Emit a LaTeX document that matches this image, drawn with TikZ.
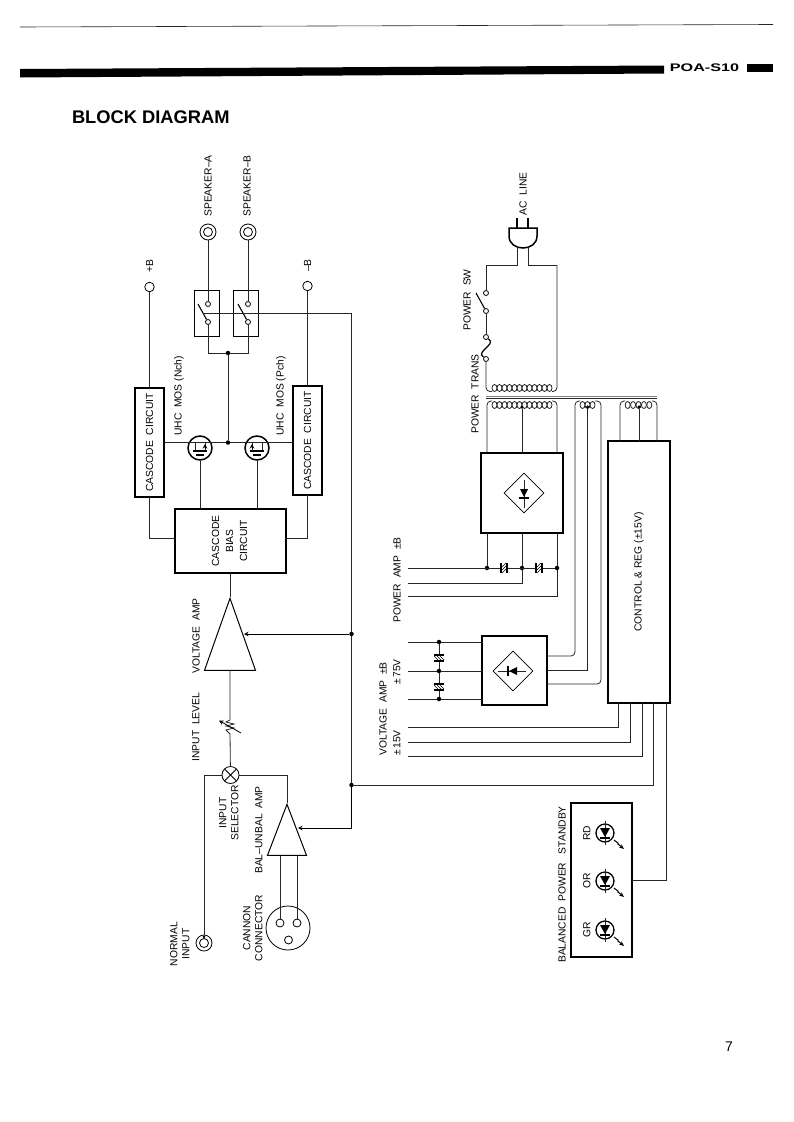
\documentclass[tikz,border=0pt]{standalone}
\usepackage{fontspec}
\setmainfont{Liberation Sans}
\usetikzlibrary{positioning, arrows.meta, shapes.geometric}
\newcommand{\vt}[1]{\rotatebox{90}{#1}}
\newcommand{\vtt}[1]{\rotatebox{90}{\begin{tabular}{@{}c@{}}#1\end{tabular}}}
% #1 position, #2 side of the arrow (1 or -1)
\newcommand{\mossym}[2]{\begin{scope}[shift={(#1)}]
    \draw[bar] (-7,3) -- (7,3);
    \draw[bar] (-4,7) -- (4,7);
    \draw[wire] (-5,-6) -- (-5,3) (5,-6) -- (5,3);
    \draw[arr] (#2*5,1) -- (#2*5,-4);
  \end{scope}}
% #1 position, #2 rotation
\newcommand{\capsym}[2]{\begin{scope}[shift={(#1)},rotate=#2]
    \fill[white] (-3,-5) rectangle (3,5);
    \draw[bar] (-3,-5) -- (-3,5) (3,-5) -- (3,5);
    \foreach \k in {-3,0,3} \draw[thin] (-2,\k+2) -- (2,\k-2);
  \end{scope}}
% #1 position, #2 rotation (pointing down at 0)
\newcommand{\diodesym}[2]{\begin{scope}[shift={(#1)},rotate=#2]
    \draw[wire] (0,-13) -- (0,15);
    \fill (-4,-4) -- (4,-4) -- (0,4) -- cycle;
    \draw[bar] (-5,5) -- (5,5);
  \end{scope}}
\newcommand{\ledsym}[1]{\begin{scope}[shift={(#1)}]
    \draw[wire] (0,-12) -- (0,12);
    \fill (-5,-5) -- (5,-5) -- (0,4) -- cycle;
    \draw[bar] (-5,5) -- (5,5);
    \draw[line width=1pt] (9,7) -- (13,10) -- (13,12);
    \draw[-{Stealth[length=5pt, width=4pt]}, line width=1pt] (13,11) -- (19,16);
  \end{scope}}
% #1 first loop x, #2 y, #3 loops, #4 pitch
\newcommand{\coilsym}[4]{\foreach \k in {1,...,#3}
    \draw[wire] ({#1+(\k-0.5)*#4},#2) ellipse (2.5pt and 3.5pt);}

\begin{document}
\begin{tikzpicture}[
    x=1pt, y=-1pt,
    wire/.style={line width=0.8pt, black!85},
    bar/.style={line width=1.5pt},
    arr/.style={-{Stealth[length=4.5pt, width=4.5pt]}, line width=0.8pt},
    block/.style={draw, line width=1.5pt, inner sep=0pt, outer sep=0pt, fill=white,
                  font=\fontsize{10.3}{13}\selectfont},
    thinbox/.style={draw, line width=0.8pt, inner sep=0pt, outer sep=0pt},
    lbl/.style={inner sep=0pt, outer sep=0pt, font=\fontsize{10.3}{12}\selectfont},
    dot/.style={circle, fill, inner sep=0pt, minimum size=4.5pt},
    port/.style={circle, draw, line width=0.8pt, fill=white, inner sep=0pt, minimum size=5pt},
    opencirc/.style={circle, draw, line width=0.8pt, inner sep=0pt, minimum size=9.5pt},
    jack/.style={circle, draw, line width=0.8pt, inner sep=0pt, minimum size=16pt,
                 path picture={\draw[line width=0.8pt] (path picture bounding box.center) circle (4.5pt);}},
    amp/.style={draw, line width=1pt, isosceles triangle, shape border rotate=90,
                isosceles triangle stretches, inner sep=0pt, anchor=apex},
    mosfet/.style={circle, draw, line width=1.5pt, inner sep=0pt, minimum size=24pt},
    led/.style={circle, draw, line width=1.3pt, inner sep=0pt, minimum size=18pt},
    bridge/.style={diamond, draw, line width=0.8pt, inner sep=0pt, minimum width=40pt, minimum height=40pt}
  ]
    \useasboundingbox (0,0) rectangle (793,1122);
    % Page head
    \draw[wire, line width=0.6pt] (20,27) -- (773,24.5);
    \fill (20,69) -- (664,65.5) -- (664,73.5) -- (20,77.5) -- cycle;
    \fill (747,63.5) rectangle (773,71.5);
    \node[lbl, font=\bfseries\fontsize{11}{12}\selectfont, xscale=1.47, transform shape] (model) at (704.5,68) {POA-S10};
    \node[lbl, font=\bfseries\fontsize{18.3}{20}\selectfont, anchor=west] (title) at (72,117) {BLOCK DIAGRAM};
    \node[lbl, font=\fontsize{14}{14}\selectfont] (pageno) at (729,1047) {7};

    % Speaker outputs
    \node[jack] (spkA) at (208,232) {};
    \node[jack] (spkB) at (248,232) {};
    \node[lbl] (spkAtxt) at (208,186) {\vt{SPEAKER--A}};
    \node[lbl] (spkBtxt) at (247,186) {\vt{SPEAKER--B}};
    \node[thinbox, minimum width=25pt, minimum height=46pt] (swA) at (206.5,313) {};
    \node[thinbox, minimum width=25pt, minimum height=46pt, right=14pt of swA] (swB) {};
    \node[port] (swAt) at (208,304) {};
    \node[port] (swAb) at (208,322) {};
    \node[port] (swBt) at (248,304) {};
    \node[port] (swBb) at (248,322) {};
    \coordinate (armA) at (198,304);
    \coordinate (armB) at (238,304);
    \coordinate (ctlA) at (202.5,313);
    \draw[line width=1.1pt] (armA) -- (swAb);
    \draw[line width=1.1pt] (armB) -- (swBb);
    \draw[wire] (spkA) -- (swAt);
    \draw[wire] (spkB) -- (swBt);
    \node[dot] (swDot) at (228,353) {};
    \draw[wire] (swAb) |- (swDot);
    \draw[wire] (swBb) |- (swDot);

    % Rails
    \node[opencirc] (plusB) at (149.5,287) {};
    \node[opencirc] (minusB) at (307.5,286) {};
    \node[lbl, above=9pt of plusB] (plusBtxt) {\vt{+B}};
    \node[lbl, above=9pt of minusB] (minusBtxt) {\vt{--B}};

    % Cascode stage
    \node[block, minimum width=29pt, minimum height=109pt] (casT) at (149.5,442.5) {\vt{CASCODE\ \ CIRCUIT}};
    \node[block, minimum width=29pt, minimum height=109pt] (casB) at (307.5,440.5) {\vt{CASCODE\ \ CIRCUIT}};
    \node[block, minimum width=111pt, minimum height=64pt] (bias) at (230.5,541)
         {\vtt{CASCODE\\[1pt]BIAS\\[1pt]CIRCUIT}};
    \node[mosfet] (mosN) at (200,448) {};
    \node[mosfet] (mosP) at (257,448) {};
    \node[dot] (mosDot) at (228,442.5) {};
    \node[lbl] (mosNtxt) at (179,396) {\vt{UHC\ \ MOS (Nch)}};
    \node[lbl] (mosPtxt) at (281,396) {\vt{UHC\ \ MOS (Pch)}};
    \draw[wire] (plusB) -- (casT.north -| plusB);
    \draw[wire] (minusB) -- (casB.north -| minusB);
    \draw[wire] (casT.east) -- (mosDot) -- (mosDot -| casB.west);
    \draw[wire] (swDot) -- (mosDot);
    \draw[wire] (mosN.south) -- (mosN.south |- bias.north);
    \draw[wire] (mosP.south) -- (mosP.south |- bias.north);
    \draw[wire] (casT.south) |- ([yshift=3pt]bias.west);
    \draw[wire] (casB.south) |- ([yshift=3pt]bias.east);
    \mossym{mosN}{1}
    \mossym{mosP}{-1}

    % Voltage amp and input level
    \node[amp, minimum width=51pt, minimum height=72pt] (vamp) at (230,597) {};
    \node[lbl] (vamptxt) at (196,636) {\vt{VOLTAGE\ \ AMP}};
    \draw[wire] (bias.south -| vamp.apex) -- (vamp.apex);
    \coordinate (lvlT) at (230,720);
    \coordinate (lvlB) at (230,734);
    \draw[wire] (vamp.lower side) -- (lvlT)
      -- ++(-4,2) -- ++(8,2) -- ++(-8,2) -- ++(8,2) -- ++(-8,2) -- (lvlB);
    \draw[arr] (241,733) -- (219,720.5);
    \node[lbl] (lvltxt) at (196,727) {\vt{INPUT\ \ LEVEL}};

    % Input selector
    \node[circle, draw, line width=0.8pt, inner sep=0pt, minimum size=17pt,
          path picture={\draw[line width=0.8pt] (path picture bounding box.north west) -- (path picture bounding box.south east)
            (path picture bounding box.north east) -- (path picture bounding box.south west);}] (sel) at (230.5,775) {};
    \node[lbl] (seltxt) at (230,813) {\vtt{INPUT\\SELECTOR}};
    \draw[wire] (lvlB) -- (sel);
    \node[jack] (norm) at (204,943) {};
    \node[dot, minimum size=3pt, above=-4pt of norm] (normPin) {};
    \node[lbl] (normtxt) at (181,944) {\vtt{NORMAL\\INPUT}};
    \draw[wire] (sel.west) -| (norm.north);

    % Balanced input
    \node[amp, minimum width=39pt, minimum height=51pt] (bamp) at (287,803) {};
    \node[lbl] (bamptxt) at (259,830) {\vt{BAL--UNBAL\ \ AMP}};
    \draw[wire] (sel.east) -| (bamp.apex);
    \node[circle, draw, line width=0.8pt, inner sep=0pt, minimum size=44pt] (cannon) at (288,928) {};
    \node[opencirc, minimum size=8pt] (pinA) at (280,923) {};
    \node[opencirc, minimum size=8pt] (pinB) at (297,923) {};
    \node[opencirc, minimum size=8pt] (pinC) at (288.5,940) {};
    \node[lbl] (cantxt) at (254,928) {\vtt{CANNON\\CONNECTOR}};
    \draw[wire] (pinA) -- (pinA |- bamp.lower side);
    \draw[wire] (pinB) -- (pinB |- bamp.lower side);

    % Muting line
    \node[dot] (muteA) at (351.5,634) {};
    \node[dot] (muteB) at (351.5,785) {};
    \coordinate (vampIn) at (244,634);
    \coordinate (bampIn) at (298,828);
    \draw[wire] (ctlA) -| (muteA) -- (muteB);
    \draw[arr] (muteA) -- (vampIn);
    \draw[arr] (muteB) |- (bampIn);

    % AC line
    \coordinate (prongL) at (517,218);
    \coordinate (prongR) at (528,218);
    \coordinate (plugL) at (517,247);
    \coordinate (plugR) at (528,247);
    \draw[bar] (prongL) -- (517,228);
    \draw[bar] (prongR) -- (528,228);
    \draw[bar] (509,228) -- (537,228) -- (537,236) .. controls (537,244) and (530,248) .. (523,248)
      .. controls (516,248) and (509,244) .. (509,236) -- cycle;
    \node[lbl] (actxt) at (523,194) {\vt{AC\ \ LINE}};
    \coordinate (acL) at (486,265);
    \coordinate (acR) at (557,265);
    \node[port] (pwA) at (486,293) {};
    \node[port] (pwB) at (486,311) {};
    \node[port] (fuA) at (486,337) {};
    \node[port] (fuB) at (486,359) {};
    \coordinate (pwArm) at (476,293);
    \node[lbl] (pwtxt) at (467,300) {\vt{POWER\ \ SW}};
    \draw[wire] (plugL) |- (acL) -- (pwA);
    \draw[wire] (plugR) |- (acR);
    \draw[line width=1.1pt] (pwArm) -- (pwB);
    \draw[wire] (pwB) -- (fuA);
    \draw[line width=1.2pt] (fuA) .. controls (493,342) and (489,345) .. (486,348)
      .. controls (483,351) and (479,354) .. (fuB);

    % Power transformer
    \coordinate (prL) at (492,391.5);
    \coordinate (prR) at (552,391.5);
    \coilsym{492}{388}{12}{5}
    \draw[wire, rounded corners=4pt] (fuB) |- (prL);
    \draw[wire, rounded corners=4pt] (acR) |- (prR);
    \draw[line width=1.3pt, black!50] (486,396.3) -- (657,396.3);
    \draw[wire] (486,398.7) -- (657,398.7);
    \node[lbl] (trtxt) at (475,394) {\vt{POWER\ \ TRANS}};
    \coilsym{492}{405}{12}{5}
    \coilsym{580}{405}{3}{5}
    \coilsym{625}{405}{5}{5.4}
    \node[dot, minimum size=3.5pt] (tapA) at (522,407) {};
    \node[dot, minimum size=3.5pt] (tapB) at (587.5,407) {};
    \node[dot, minimum size=3.5pt] (tapC) at (639,407) {};
    \coordinate (seA1) at (492,401);
    \coordinate (seA2) at (552,401);
    \coordinate (seB1) at (580,401);
    \coordinate (seB2) at (595,401);
    \coordinate (seC1) at (625,401);
    \coordinate (seC2) at (652,401);

    % Power amp supply
    \node[block, minimum width=82pt, minimum height=80pt] (rectA) at (522,493) {};
    \node[bridge] (brA) at (524,493) {};
    \diodesym{brA}{0}
    \draw[wire, rounded corners=4pt] ([xshift=-35pt]rectA.north) |- (seA1);
    \draw[wire, rounded corners=4pt] ([xshift=35pt]rectA.north) |- (seA2);
    \draw[wire] (tapA) -- (rectA.north);
    \node[dot] (paA) at (487,568) {};
    \node[dot] (paB) at (522,568) {};
    \node[dot] (paC) at (557,568) {};
    \coordinate (paEndA) at (408,568);
    \coordinate (paEndB) at (408,583);
    \coordinate (paEndC) at (408,596);
    \draw[wire] (paA |- rectA.south) -- (paA);
    \draw[wire] (paC |- rectA.south) -- (paC) |- (paEndC);
    \draw[wire] (rectA.south) -- (paB) |- (paEndB);
    \draw[wire] (paEndA) -- (paC);
    \capsym{504,568}{0}
    \capsym{539,568}{0}
    \node[lbl] (patxt) at (397,580) {\vt{POWER\ \ AMP\ \ ±B}};

    % Voltage amp supply
    \node[block, minimum width=65pt, minimum height=69pt] (rectB) at (514.5,670.5) {};
    \node[bridge] (brB) at (513,671) {};
    \diodesym{brB}{-90}
    \node[dot] (vaA) at (439,642) {};
    \node[dot] (vaB) at (439,671) {};
    \node[dot] (vaC) at (439,699) {};
    \coordinate (vaEndA) at (408,642);
    \coordinate (vaEndB) at (408,671);
    \coordinate (vaEndC) at (408,699);
    \draw[wire] (vaEndA) -- (vaA) -- (vaA -| rectB.west);
    \draw[wire] (vaEndB) -- (vaB) -- (vaB -| rectB.west);
    \draw[wire] (vaEndC) -- (vaC) -- (vaC -| rectB.west);
    \draw[wire] (vaA) -- (vaB) -- (vaC);
    \capsym{439,658}{90}
    \capsym{439,687}{90}
    \node[lbl] (vatxt) at (383,709) {\vt{VOLTAGE\ \ AMP\ \ ±B}};
    \node[lbl] (va75txt) at (397,672) {\vt{±\,75V}};
    \node[lbl] (va15txt) at (397,743) {\vt{±\,15V}};
    \draw[wire, rounded corners=4pt] ([yshift=14.5pt]rectB.east) -| (575,401) -- (seB1);
    \draw[wire] (rectB.east) -| (tapB);
    \draw[wire, rounded corners=4pt] ([yshift=-13.5pt]rectB.east) -| (601,401) -- (seB2);

    % Control and regulator
    \node[block, minimum width=62pt, minimum height=262pt] (ctrl) at (639,572) {\vt{CONTROL \& REG (±15V)}};
    \draw[wire, rounded corners=4pt] ([xshift=-19pt]ctrl.north) |- (seC1);
    \draw[wire, rounded corners=4pt] ([xshift=18pt]ctrl.north) |- (seC2);
    \draw[wire] (tapC) -- (ctrl.north);
    \coordinate (cvA) at (408,727);
    \coordinate (cvB) at (408,742);
    \coordinate (cvC) at (408,756);
    \draw[wire] ([xshift=-21pt]ctrl.south) |- (cvA);
    \draw[wire] ([xshift=-9pt]ctrl.south) |- (cvB);
    \draw[wire] ([xshift=3pt]ctrl.south) |- (cvC);
    \draw[wire] ([xshift=14pt]ctrl.south) |- (muteB);

    % Indicators
    \node[block, minimum width=61pt, minimum height=154pt] (ind) at (601.5,880) {};
    \node[lbl] (indtxt) at (562,884.5) {\vt{BALANCED\ \ POWER\ \ \ STANDBY}};
    \node[led] (ledR) at (605,833) {};
    \node[led] (ledO) at (605,881) {};
    \node[led] (ledG) at (605,930) {};
    \ledsym{ledR}
    \ledsym{ledO}
    \ledsym{ledG}
    \node[lbl, left=5pt of ledR] (rdtxt) {\vt{RD}};
    \node[lbl, left=5pt of ledO] (ortxt) {\vt{OR}};
    \node[lbl, left=5pt of ledG] (grtxt) {\vt{GR}};
    \draw[wire] ([xshift=27pt]ctrl.south) |- (ind.east);
  \end{tikzpicture}
\end{document}
